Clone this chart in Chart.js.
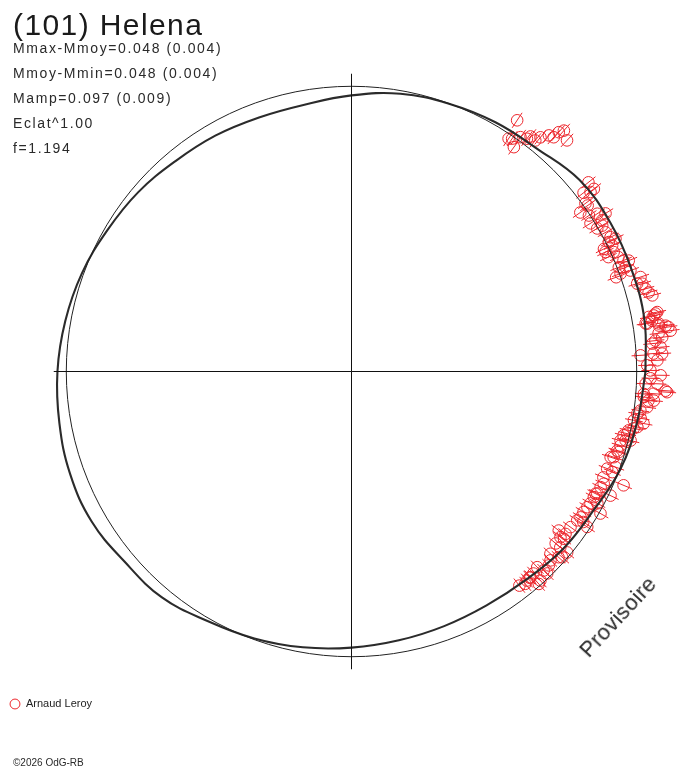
<!DOCTYPE html>
<html>
<head>
<meta charset="utf-8">
<script src="https://cdn.jsdelivr.net/npm/chart.js@4.4.1/dist/chart.umd.min.js"></script>
<style>
html,body{margin:0;padding:0;background:#fff;}
#wrap{position:relative;width:688px;height:768px;overflow:hidden;background:#fff;}
#c{position:absolute;left:0;top:0;width:688px;height:768px;}
.t{position:absolute;white-space:nowrap;font-family:"Liberation Sans",Arial,sans-serif;color:#222;}
</style>
</head>
<body>
<div id="wrap">
<canvas id="c" width="688" height="768"></canvas>
</div>
<script>
// ---- texts ----
const titleText = "(101) Helena";
const statLines = ["Mmax-Mmoy=0.048 (0.004)", "Mmoy-Mmin=0.048 (0.004)", "Mamp=0.097 (0.009)", "Eclat^1.00", "f=1.194"];
const observer = "Arnaud Leroy";
const stampText = "Provisoire";
const copyText = "\u00A92026 OdG-RB";

// ---- model light curve (polar: phase angle in degrees, radius relative to mean circle) ----
const modelPhase = [0,10,20,30,40,50,60,70,80,90,100,110,120,130,140,150,160,170,180,190,200,210,220,230,240,250,260,270,280,290,300,310,320,330,340,350,360];
const modelRadius = [1.031,1.043,1.045,1.047,1.044,1.017,1.009,0.999,0.989,0.968,0.950,0.948,0.955,0.962,0.977,0.989,1.006,1.019,1.031,1.040,1.050,1.052,1.038,1.034,1.010,0.996,0.982,0.968,0.957,0.950,0.947,0.953,0.968,0.978,1.003,1.017,1.031];

// ---- observations (phase angle in degrees, relative radius) ----
const obsPhase = [56.6,56.0,55.4,54.1,54.2,53.0,52.7,51.5,51.1,50.1,49.2,49.1,48.6,47.0,
  38.6,37.0,36.9,37.6,35.7,35.1,34.8,33.3,32.7,31.9,31.8,31.1,30.2,30.2,28.7,27.4,26.7,26.7,25.9,25.8,25.2,24.5,24.0,23.2,22.2,21.8,21.3,20.8,20.0,19.9,19.6,
  18.1,17.1,16.8,15.7,14.9,14.2,11.0,10.8,10.5,10.4,9.6,9.3,9.2,8.9,8.5,8.3,8.0,7.3,7.1,6.3,5.8,5.3,4.5,3.4,3.3,3.2,2.1,1.2,0.2,
  -0.7,-1.3,-2.3,-2.4,-3.5,-3.75,-4.2,-4.4,-5.0,-5.5,-5.6,-6.9,-7.7,-8.4,-9.2,-9.8,-10.1,-11.0,-11.4,-12.0,-12.7,-13.2,-13.9,-14.1,-14.4,-15.4,-16.6,-16.8,-18.1,-18.3,-19.9,
  -20.8,-21.1,-22.7,-22.8,-24.0,-24.9,-25.6,-26.4,-26.6,-27.4,-28.2,-28.9,-29.7,-29.9,-31.2,-32.5,-33.4,-33.0,-33.4,-35.4,-37.2,-37.5,-38.2,-38.4,
  -40.0,-40.1,-40.1,-41.4,-41.9,-42.5,-43.5,-44.5,-45.9,-46.0,-46.5,-47.9,-48.0,-48.6,-49.0,-49.2,-50.0,-50.7,-51.9];
const obsRadius = [1.055,0.985,0.992,0.971,1.013,1.022,1.036,1.035,1.055,1.079,1.085,1.110,1.126,1.108,
  1.063,1.064,1.048,1.027,1.010,1.012,0.977,0.996,1.024,1.049,0.986,1.026,0.997,1.017,1.016,1.023,1.010,1.036,0.984,1.015,0.984,1.010,0.986,1.018,1.030,1.047,1.006,1.028,1.004,1.040,0.985,
  1.066,1.048,1.065,1.071,1.078,1.088,1.092,1.085,1.078,1.060,1.069,1.045,1.050,1.090,1.090,1.113,1.122,1.128,1.085,1.096,1.071,1.059,1.087,1.061,1.091,1.015,1.073,1.037,1.048,
  1.084,1.049,1.073,1.032,1.103,1.109,1.062,1.028,1.029,1.065,1.046,1.044,1.022,1.013,1.027,1.005,1.040,1.021,1.009,0.993,0.991,0.980,1.008,0.991,0.974,0.978,0.972,0.978,0.967,0.957,0.985,
  0.959,0.980,1.034,0.958,0.968,0.963,1.007,0.962,0.957,0.957,0.978,0.957,1.005,0.954,0.951,0.952,0.990,0.969,0.948,0.942,0.942,0.916,0.948,0.935,
  0.987,0.936,0.957,0.985,0.975,0.946,0.962,0.970,0.986,0.970,0.946,0.988,0.953,0.993,0.956,0.955,0.957,0.962,0.954];

const meanRadius = 1;
const axisExtent = 1.044;

// ---- overlay texts ----
const wrap = document.getElementById('wrap');
function addText(txt, css) {
  const d = document.createElement('div');
  d.className = 't';
  d.textContent = txt;
  Object.assign(d.style, css);
  wrap.appendChild(d);
  return d;
}
addText(titleText, {left:'13px', top:'9.6px', fontSize:'30px', lineHeight:'30px', letterSpacing:'1.4px', color:'#1a1a1a'});
statLines.forEach((s, i) => addText(s, {left:'13px', top:(40.9 + 25 * i) + 'px', fontSize:'14px', lineHeight:'14px', letterSpacing:'1.6px', color:'#2a2a2a'}));
addText(stampText, {left:'618px', top:'617px', fontSize:'22px', lineHeight:'22px', letterSpacing:'0.3px', color:'#2a2a2a', transform:'translate(-50%,-50%) rotate(-47deg)'});
addText(copyText, {left:'13px', top:'757.5px', fontSize:'10px', lineHeight:'10px', color:'#2a2a2a'});

// ---- chart ----
const DEG = Math.PI / 180;
const toXY = (a, r) => ({x: r * Math.cos(a * DEG), y: r * Math.sin(a * DEG)});
const obsPts = obsPhase.map((a, i) => toXY(a, obsRadius[i]));
const modelPts = modelPhase.map((a, i) => toXY(a, modelRadius[i]));
const red = 'rgb(236,38,44)';

new Chart(document.getElementById('c'), {
  type: 'scatter',
  data: {
    datasets: [
      {label: 'axisH', data: [{x: -axisExtent, y: 0}, {x: axisExtent, y: 0}], showLine: true, borderColor: '#111', borderWidth: 1, pointRadius: 0},
      {label: 'axisV', data: [{x: 0, y: -axisExtent}, {x: 0, y: axisExtent}], showLine: true, borderColor: '#111', borderWidth: 1, pointRadius: 0},
      {label: 'mean', data: [{x: 0, y: 0}],
        pointRadius: (c) => { const s = c.chart.scales.x; const v = Math.abs(s.getPixelForValue(meanRadius) - s.getPixelForValue(0)); return isFinite(v) ? v : 0; },
        pointBorderColor: '#222', pointBackgroundColor: 'rgba(0,0,0,0)', pointBorderWidth: 1},
      {label: 'model', data: modelPts, showLine: true, tension: 0.4, borderColor: '#2b2b2b', borderWidth: 2.1, pointRadius: 0},
      {label: observer, data: obsPts, pointStyle: 'circle', pointRadius: 5.8, pointBorderColor: red, pointBackgroundColor: 'rgba(0,0,0,0)', pointBorderWidth: 1},
      {label: 'err', data: obsPts, pointStyle: 'line', pointRadius: 9, pointRotation: obsPhase.map(a => -a), pointBorderColor: red, pointBorderWidth: 1}
    ]
  },
  options: {
    responsive: false,
    animation: false,
    events: [],
    layout: {autoPadding: false, padding: {left: 3.5, right: 3, top: 73, bottom: 48.5}},
    scales: {
      x: {type: 'linear', min: -1.19, max: 1.1693, grid: {display: false}, border: {display: false}, ticks: {display: false},
          afterFit: (s) => { s.height = 22.5; }},
      y: {type: 'linear', min: -1.0466, max: 1.0466, grid: {display: false}, border: {display: false}, ticks: {display: false},
          afterFit: (s) => { s.width = 8.6; }}
    },
    plugins: {
      tooltip: {enabled: false},
      legend: {
        position: 'bottom', align: 'start',
        labels: {filter: (item) => item.text === observer, usePointStyle: true, boxHeight: 7, padding: 6, color: '#222',
                 font: {size: 11, family: 'Liberation Sans'}}
      }
    }
  }
});
</script>
</body>
</html>
